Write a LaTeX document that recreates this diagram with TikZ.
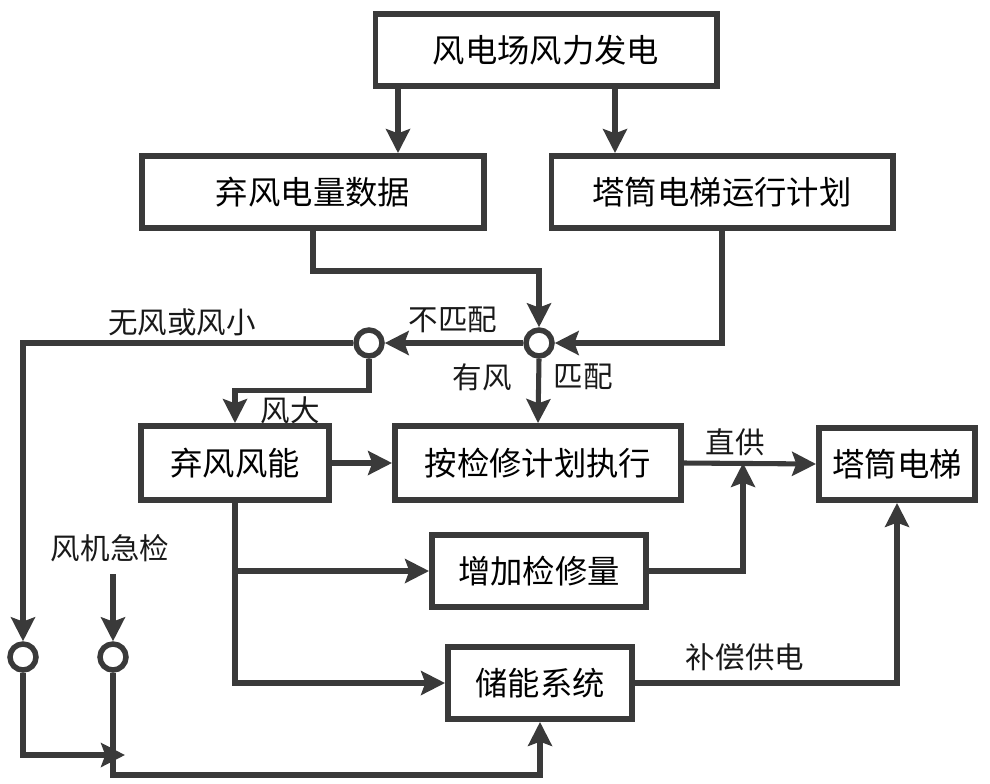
\documentclass[tikz,border=0pt]{standalone}
\usepackage{fontspec}
\setmainfont{Noto Sans CJK SC}
\usetikzlibrary{arrows.meta}
\definecolor{ink}{RGB}{58,58,58}
\tikzset{
	box/.style={draw=ink, line width=4.2pt, fill=white, inner sep=0pt, minimum height=1.8cm, font=\fontsize{23}{27}\selectfont},
	knot/.style={draw=ink, circle, line width=3.9pt, fill=white, inner sep=0pt, minimum size=0.65cm},
	flow/.style={draw=ink, line width=3.6pt, -{Stealth[length=17pt, width=17pt, inset=3pt]}},
	tag/.style={inner sep=0pt, text=black!90, font=\fontsize{21}{25}\selectfont},
}

\begin{document}
\begin{tikzpicture}[x=0.025cm, y=-0.025cm]
		\useasboundingbox (0,0) rectangle (990,783);

		\node (gen)[box, minimum width=8.525cm] at (546,50)  {风电场风力发电};
		\node (data)[box, minimum width=8.55cm] at (313,192)  {弃风电量数据};
		\node (plan)[box, minimum width=8.525cm] at (722,192)  {塔筒电梯运行计划};
		\node (curt)[box, minimum width=4.7cm, minimum height=1.85cm] at (235,463)  {弃风风能};
		\node (exec)[box, minimum width=7.15cm, minimum height=1.85cm] at (538,463)  {按检修计划执行};
		\node (lift)[box, minimum width=3.9cm] at (897,464)  {塔筒电梯};
		\node (maint)[box, minimum width=5.35cm] at (539,571)  {增加检修量};
		\node (store)[box, minimum width=4.6cm] at (540,683)  {储能系统};

		\node (match)[knot] at (539,343)  {};
		\node (wind)[knot] at (369,343)  {};
		\node (stopA)[knot] at (23,657)  {};
		\node (stopB)[knot] at (113,657)  {};

		\node (tNo)[tag] at (453,320)  {不匹配};
		\node (tHas)[tag] at (482,377)  {有风};
		\node (tYes)[tag] at (583,377)  {匹配};
		\node (tLow)[tag] at (182,322)  {无风或风小};
		\node (tHigh)[tag] at (290,410)  {风大};
		\node (tDirect)[tag] at (735,442)  {直供};
		\node (tComp)[tag] at (745,657)  {补偿供电};
		\node (tFault)[tag] at (110,548)  {风机急检};

		\coordinate (g1) at (398,0);
		\coordinate (g2) at (615,0);
		\coordinate (join) at (743,0);
		\coordinate (fault) at (113,574);
		\coordinate (merge) at (125,755);
		\coordinate (base) at (0,775);

		\draw[flow] (gen.south -| g1) -- (g1 |- data.north);
		\draw[flow] (gen.south -| g2) -- (g2 |- plan.north);
		\draw[flow] (data.south) -- ++(0,40) -| (match.north);
		\draw[flow] (plan.south) |- (match.east);
		\draw[flow] (match.west) -- (wind.east);
		\draw[flow] (match.south) -- (exec.north);
		\draw[flow] (wind.south) -- ++(0,32) -| (curt.north);
		\draw[flow] (wind.west) -| (stopA.north);
		\draw[flow] (fault) -- (stopB.north);
		\draw[flow] (curt.east) -- (exec.west);
		\draw[flow] (exec.east) -- (lift.west);
		\draw[flow] (maint.east) -| (join |- exec.east);
		\draw[flow] (curt.south) |- (store.west);
		\draw[flow] (curt.south |- maint.west) -- (maint.west);
		\draw[flow] (store.east) -| (lift.south);
		\draw[flow] (stopA.south) |- (merge);
		\draw[flow] (stopB.south) -- (stopB.south |- base) -| (store.south);
	\end{tikzpicture}
\end{document}
